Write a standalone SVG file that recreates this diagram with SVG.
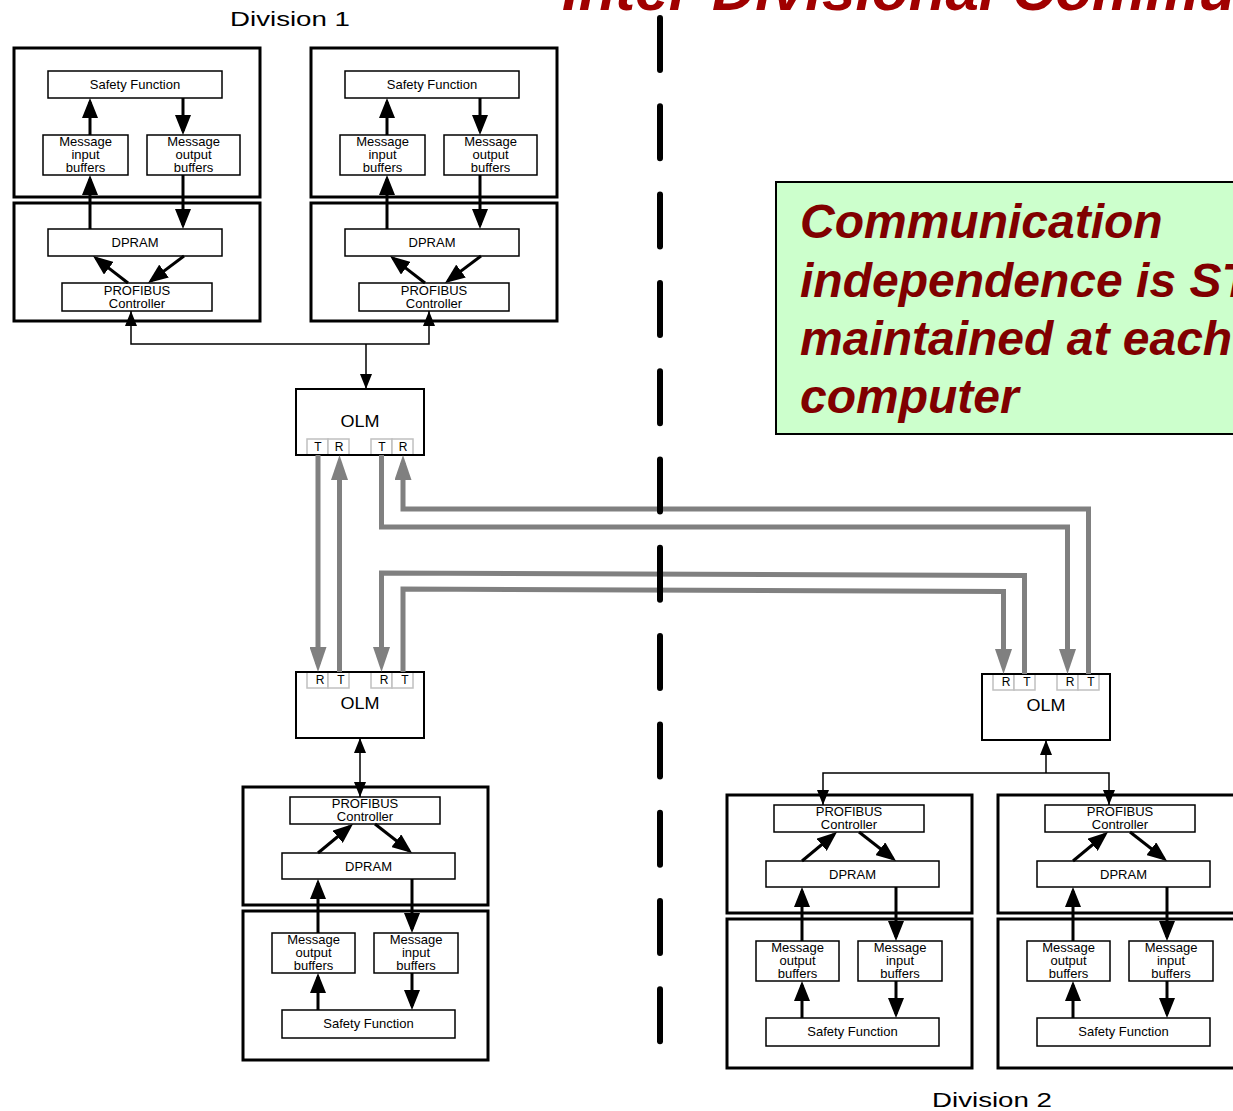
<svg xmlns="http://www.w3.org/2000/svg" width="1233" height="1111" viewBox="0 0 1233 1111">
  <style>
    text { font-family: "Liberation Sans", Arial, sans-serif; fill: #000; }
    .lbl { font-size: 13px; text-anchor: middle; }
    .port { font-size: 12px; text-anchor: middle; }
    .olmtxt { font-size: 16px; text-anchor: middle; }
    .div { font-size: 20px; }
    .frame { fill: none; stroke: #000; stroke-width: 3; }
    .box { fill: #fff; stroke: #000; stroke-width: 1.5; }
    .olm { fill: none; stroke: #000; stroke-width: 2; }
    .pbox { fill: #fff; stroke: #c0c0c0; stroke-width: 1.5; }
    .thick { fill: none; stroke: #000; stroke-width: 3; marker-end: url(#ahBig); }
    .thin { fill: none; stroke: #000; stroke-width: 1.5; }
    .fiber { fill: none; stroke: #808080; stroke-width: 5; stroke-linejoin: miter; marker-end: url(#ahGray); }
    .title { font-size: 60px; font-weight: bold; font-style: italic; fill: #a00000; }
    .note { font-size: 48px; font-weight: bold; font-style: italic; fill: #800000; }
  </style>
  <defs>
    <marker id="ahBig" markerUnits="userSpaceOnUse" markerWidth="20" markerHeight="16" refX="16" refY="8" orient="auto">
      <path d="M0,0 L20,8 L0,16 z" fill="#000"/>
    </marker>
    <marker id="ahThin" markerUnits="userSpaceOnUse" markerWidth="15" markerHeight="12" refX="15" refY="6" orient="auto-start-reverse">
      <path d="M0,0 L15,6 L0,12 z" fill="#000"/>
    </marker>
    <marker id="ahGray" markerUnits="userSpaceOnUse" markerWidth="25" markerHeight="17" refX="17" refY="8.5" orient="auto">
      <path d="M0,0 L25,8.5 L0,17 z" fill="#808080"/>
    </marker>

    <!-- computer of division 1, controller at the bottom -->
    <g id="compUp">
      <rect class="frame" x="14" y="48" width="246" height="149"/>
      <rect class="frame" x="14" y="203" width="246" height="118"/>
      <rect class="box" x="48" y="71" width="174" height="27"/>
      <text class="lbl" x="135" y="89">Safety Function</text>
      <rect class="box" x="43" y="135" width="85" height="40"/>
      <text class="lbl" x="85.5" y="146">Message</text>
      <text class="lbl" x="85.5" y="159">input</text>
      <text class="lbl" x="85.5" y="172">buffers</text>
      <rect class="box" x="147" y="135" width="93" height="40"/>
      <text class="lbl" x="193.5" y="146">Message</text>
      <text class="lbl" x="193.5" y="159">output</text>
      <text class="lbl" x="193.5" y="172">buffers</text>
      <rect class="box" x="48" y="229" width="174" height="27"/>
      <text class="lbl" x="135" y="247">DPRAM</text>
      <rect class="box" x="62" y="283" width="150" height="28"/>
      <text class="lbl" x="137" y="295">PROFIBUS</text>
      <text class="lbl" x="137" y="308">Controller</text>
      <path class="thick" d="M90,229 V179"/>
      <path class="thick" d="M90,135 V102"/>
      <path class="thick" d="M183,98 V131"/>
      <path class="thick" d="M183,175 V225"/>
      <path class="thick" d="M128,283 L96.2,258.4"/>
      <path class="thick" d="M184,256 L151.2,280.6"/>
    </g>

    <!-- computer with controller on top -->
    <g id="compDown">
      <rect class="frame" x="243" y="787" width="245" height="118"/>
      <rect class="frame" x="243" y="911" width="245" height="149"/>
      <rect class="box" x="290" y="797" width="150" height="27"/>
      <text class="lbl" x="365" y="808">PROFIBUS</text>
      <text class="lbl" x="365" y="821">Controller</text>
      <rect class="box" x="282" y="853" width="173" height="26"/>
      <text class="lbl" x="368.5" y="871">DPRAM</text>
      <rect class="box" x="272" y="933" width="83" height="40"/>
      <text class="lbl" x="313.5" y="944">Message</text>
      <text class="lbl" x="313.5" y="957">output</text>
      <text class="lbl" x="313.5" y="970">buffers</text>
      <rect class="box" x="374" y="933" width="84" height="40"/>
      <text class="lbl" x="416" y="944">Message</text>
      <text class="lbl" x="416" y="957">input</text>
      <text class="lbl" x="416" y="970">buffers</text>
      <rect class="box" x="282" y="1010" width="173" height="28"/>
      <text class="lbl" x="368.5" y="1028">Safety Function</text>
      <path class="thick" d="M318,853 L349.9,826.5"/>
      <path class="thick" d="M375,824 L408.9,850.5"/>
      <path class="thick" d="M318,933 V883"/>
      <path class="thick" d="M412,879 V929"/>
      <path class="thick" d="M318,1010 V977"/>
      <path class="thick" d="M412,973 V1006"/>
    </g>
  </defs>

  <!-- headings -->
  <text class="title" x="562" y="10">Inter-Divisional Communication</text>
  <text class="div" x="230" y="26" textLength="120" lengthAdjust="spacingAndGlyphs">Division 1</text>
  <text class="div" x="932" y="1107" textLength="120" lengthAdjust="spacingAndGlyphs">Division 2</text>

  <!-- note -->
  <g id="note">
    <rect x="776" y="182" width="470" height="252" fill="#ccffcc" stroke="#000" stroke-width="2"/>
    <text class="note" x="800" y="238">Communication</text>
    <text class="note" x="800" y="297">independence is STILL</text>
    <text class="note" x="800" y="355">maintained at each</text>
    <text class="note" x="800" y="413">computer</text>
  </g>

  <!-- division 1 computers -->
  <g id="div1-comp-a"><use href="#compUp"/></g>
  <g id="div1-comp-b"><use href="#compUp" transform="translate(297,0)"/></g>
  <g id="div1-comp-c"><use href="#compDown"/></g>

  <!-- division 2 computers -->
  <g id="div2-comp-a"><use href="#compDown" transform="translate(484,8)"/></g>
  <g id="div2-comp-b"><use href="#compDown" transform="translate(755,8)"/></g>

  <!-- optical link modules -->
  <g id="olm-top">
    <rect class="pbox" x="307" y="439" width="21" height="16"/>
    <rect class="pbox" x="328" y="439" width="21" height="16"/>
    <rect class="pbox" x="371" y="439" width="21" height="16"/>
    <rect class="pbox" x="392" y="439" width="21" height="16"/>
    <text class="port" x="318" y="451">T</text>
    <text class="port" x="339" y="451">R</text>
    <text class="port" x="382" y="451">T</text>
    <text class="port" x="403" y="451">R</text>
    <rect class="olm" x="296" y="389" width="128" height="66"/>
    <text class="olmtxt" x="360" y="427" textLength="39" lengthAdjust="spacingAndGlyphs">OLM</text>
  </g>
  <g id="olm-div1">
    <rect class="pbox" x="307" y="672" width="21" height="16"/>
    <rect class="pbox" x="328" y="672" width="21" height="16"/>
    <rect class="pbox" x="371" y="672" width="21" height="16"/>
    <rect class="pbox" x="392" y="672" width="21" height="16"/>
    <text class="port" x="320" y="684">R</text>
    <text class="port" x="341" y="684">T</text>
    <text class="port" x="384" y="684">R</text>
    <text class="port" x="405" y="684">T</text>
    <rect class="olm" x="296" y="672" width="128" height="66"/>
    <text class="olmtxt" x="360" y="709" textLength="39" lengthAdjust="spacingAndGlyphs">OLM</text>
  </g>
  <g id="olm-div2">
    <rect class="pbox" x="993" y="674" width="21" height="16"/>
    <rect class="pbox" x="1014" y="674" width="21" height="16"/>
    <rect class="pbox" x="1057" y="674" width="21" height="16"/>
    <rect class="pbox" x="1078" y="674" width="21" height="16"/>
    <text class="port" x="1006" y="686">R</text>
    <text class="port" x="1027" y="686">T</text>
    <text class="port" x="1070" y="686">R</text>
    <text class="port" x="1091" y="686">T</text>
    <rect class="olm" x="982" y="674" width="128" height="66"/>
    <text class="olmtxt" x="1046" y="711" textLength="39" lengthAdjust="spacingAndGlyphs">OLM</text>
  </g>

  <!-- connectors -->
  <g id="connectors">
    <!-- PROFIBUS copper links -->
    <path class="thin" d="M366,344 V389" marker-end="url(#ahThin)"/>
    <path class="thin" d="M366,344 H131 V311" marker-end="url(#ahThin)"/>
    <path class="thin" d="M366,344 H429 V311" marker-end="url(#ahThin)"/>
    <path class="thin" d="M360,738 V797" marker-start="url(#ahThin)" marker-end="url(#ahThin)"/>
    <path class="thin" d="M1046,773 V740" marker-end="url(#ahThin)"/>
    <path class="thin" d="M1046,773 H823 V805" marker-end="url(#ahThin)"/>
    <path class="thin" d="M1046,773 H1109 V805" marker-end="url(#ahThin)"/>
    <!-- fibre links -->
    <path class="fiber" d="M318,455 V664"/>
    <path class="fiber" d="M339.5,672 V463"/>
    <path class="fiber" d="M381.5,455 V527 H1067.5 V666"/>
    <path class="fiber" d="M1088.5,674 V509 H403 V463"/>
    <path class="fiber" d="M1024.5,674 V575.5 L381.5,573 V664"/>
    <path class="fiber" d="M403,672 V589 L1003.5,591.5 V666"/>
  </g>

  <!-- divisional boundary -->
  <path d="M660,18 V1045" fill="none" stroke="#000" stroke-width="6" stroke-linecap="round" stroke-dasharray="52 36.3"/>
</svg>
